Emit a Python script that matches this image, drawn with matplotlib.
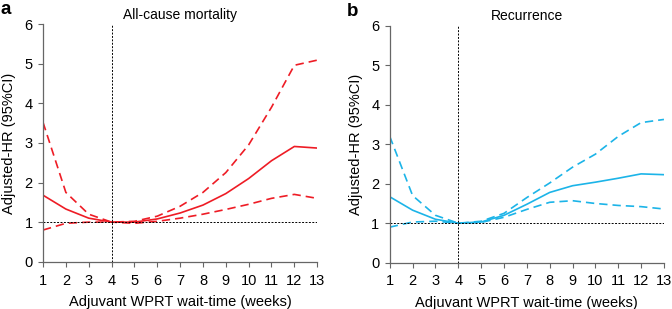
import matplotlib.pyplot as plt

plt.rcParams['font.family'] = ['Liberation Sans', 'DejaVu Sans']

weeks = list(range(1, 14))

# All-cause mortality
mort_hr = [1.68, 1.33, 1.10, 1.00, 1.00, 1.08, 1.23, 1.43, 1.72, 2.10, 2.55, 2.91, 2.87]
mort_upper = [3.52, 1.75, 1.20, 1.00, 1.02, 1.15, 1.40, 1.75, 2.25, 2.95, 3.90, 4.96, 5.09]
mort_lower = [0.80, 0.97, 1.00, 1.00, 0.97, 1.02, 1.10, 1.20, 1.32, 1.45, 1.60, 1.70, 1.60]

# Recurrence
rec_hr = [1.67, 1.33, 1.10, 1.00, 1.03, 1.20, 1.48, 1.78, 1.95, 2.04, 2.14, 2.25, 2.23]
rec_upper = [3.20, 1.70, 1.20, 1.00, 1.05, 1.25, 1.65, 2.02, 2.42, 2.75, 3.20, 3.55, 3.63]
rec_lower = [0.90, 1.03, 1.05, 1.00, 1.02, 1.15, 1.35, 1.53, 1.57, 1.50, 1.45, 1.42, 1.36]

fig = plt.figure(figsize=(6.72, 3.09), dpi=100)
ax_a = fig.add_axes([0.064, 0.153, 0.408, 0.769])
ax_b = fig.add_axes([0.580, 0.150, 0.408, 0.766])

panels = [
    (ax_a, 'a', 'All-cause mortality', '#ee1c25', mort_hr, mort_upper, mort_lower),
    (ax_b, 'b', 'Recurrence', '#1cb4e8', rec_hr, rec_upper, rec_lower),
]

for ax, letter, title, color, hr, upper, lower in panels:
    ax.plot(weeks, upper, color=color, lw=1.2, ls=(0, (5, 3)))
    ax.plot(weeks, lower, color=color, lw=1.2, ls=(0, (5, 3)))
    ax.plot(weeks, hr, color=color, lw=1.2)
    ax.plot([1, 13], [1, 1], color='black', lw=0.7, ls=(0, (2, 1.5)))
    ax.plot([4, 4], [0, 6], color='black', lw=0.7, ls=(0, (2, 1.5)))

    ax.set_xlim(1, 13)
    ax.set_ylim(0, 6)
    ax.set_xticks(weeks)
    ax.set_yticks(range(0, 7))
    ax.tick_params(labelsize=10.5, length=3.5, width=0.8, color='#666666')
    ax.tick_params(axis='y', pad=4)
    ax.tick_params(axis='x', pad=5)
    for side in ['top', 'right']:
        ax.spines[side].set_visible(False)
    for side in ['left', 'bottom']:
        ax.spines[side].set_color('#666666')
        ax.spines[side].set_linewidth(0.9)

    ax.set_xlabel('Adjuvant WPRT wait-time (weeks)', fontsize=10.5)
    ax.xaxis.set_label_coords(0.5, -0.14)
    ax.set_ylabel('Adjusted-HR (95%CI)', fontsize=10.5)
    ax.yaxis.set_label_coords(-0.098, 0.5)
    ax.set_title(title, fontsize=10, pad=4)
    ax.text(-0.155, 1.06, letter, transform=ax.transAxes, fontsize=13.5,
            fontweight='bold', va='center', ha='left')

fig.savefig('out.png', dpi=100)
